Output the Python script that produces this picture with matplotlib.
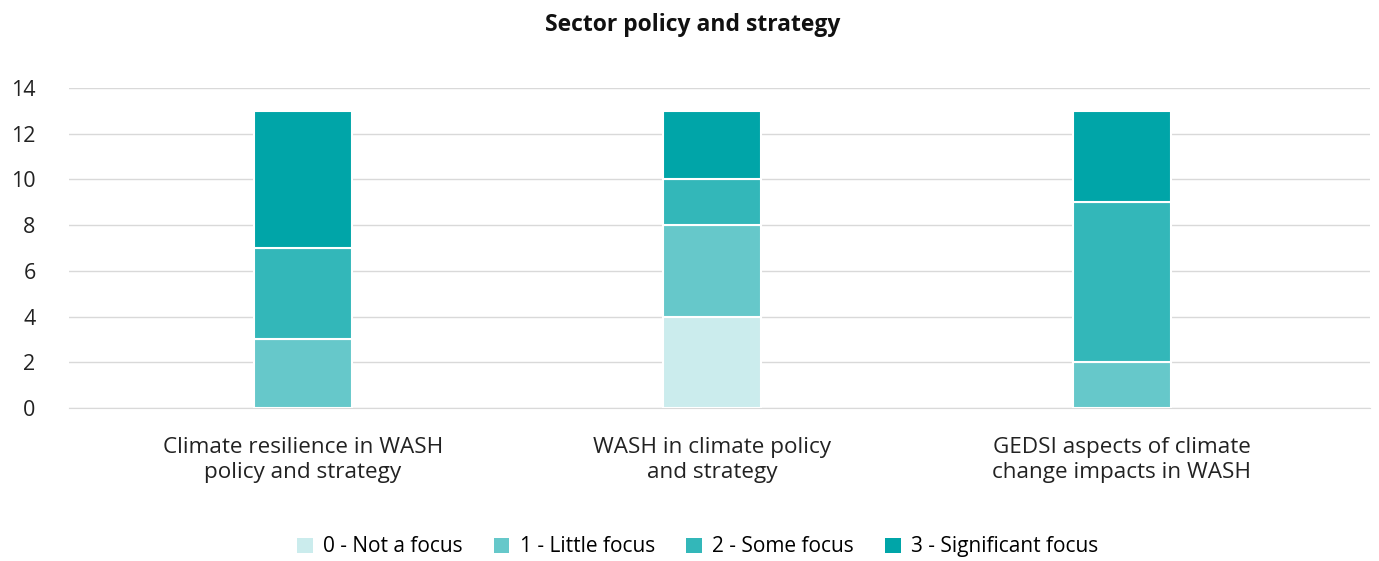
import numpy as np
import matplotlib.pyplot as plt
from matplotlib.patches import Patch

plt.rcParams['font.family'] = ['Open Sans', 'DejaVu Sans']

categories = ['Climate resilience in WASH\npolicy and strategy',
              'WASH in climate policy\nand strategy',
              'GEDSI aspects of climate\nchange impacts in WASH']
levels = ['0 - Not a focus', '1 - Little focus', '2 - Some focus', '3 - Significant focus']
not_focus = [0, 4, 0]
little_focus = [3, 4, 2]
some_focus = [4, 2, 7]
significant_focus = [6, 3, 4]
colors = ['#cbeced', '#66c8ca', '#33b7b9', '#00a5a8']

series = [not_focus, little_focus, some_focus, significant_focus]

fig = plt.figure(figsize=(13.79, 5.61), dpi=100)
ax = fig.add_axes([0.050, 0.2727, 0.9435, 0.5704])

x = np.arange(len(categories))
bottom = np.zeros(len(categories))
for vals, col in zip(series, colors):
    vals = np.array(vals, dtype=float)
    ax.bar(x, vals, 0.24, bottom=bottom, color=col, edgecolor='white', linewidth=1.5, zorder=3)
    bottom += vals

ax.set_xlim(-0.571, 2.606)
ax.set_ylim(0, 14)
ax.set_yticks(np.arange(0, 15, 2))
ax.set_xticks(x)
ax.set_xticklabels(categories, fontsize=16.2, color='#222222', linespacing=1.25)
ax.tick_params(axis='y', labelsize=15.5, colors='#222222', length=0, pad=24)
ax.tick_params(axis='x', length=0, pad=21)
ax.grid(axis='y', color='#d9d9d9', linewidth=1, zorder=0)
for s in ['top', 'right', 'left']:
    ax.spines[s].set_visible(False)
ax.spines['bottom'].set_color('#d9d9d9')

fig.text(0.5025, 0.955, 'Sector policy and strategy', ha='center', va='center',
         fontsize=16.5, fontweight='bold', color='#111111')

handles = [Patch(facecolor=c, edgecolor='none') for c in colors]
fig.legend(handles, levels, loc='center', bbox_to_anchor=(0.506, 0.025), ncol=4,
           frameon=False, fontsize=15, handlelength=0.75, handleheight=0.75,
           handletextpad=0.5, columnspacing=1.5)

fig.savefig('out.png', dpi=100)
